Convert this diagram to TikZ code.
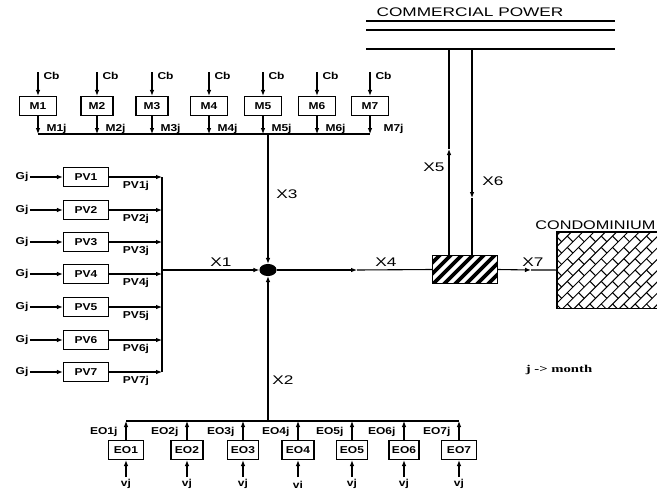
\documentclass[tikz,border=0pt]{standalone}
\usepackage{fontspec}
\setmainfont{Liberation Sans}
\newfontfamily\bigf{Liberation Sans}[FakeStretch=1.38]
\newfontfamily\condf{Liberation Sans}[FakeStretch=1.3]
\newfontfamily\smlf{Liberation Sans}[FakeStretch=1.2]
\newfontfamily\serf{Liberation Serif}[FakeStretch=1.4]
\usetikzlibrary{arrows.meta,shapes.geometric,calc}
\begin{document}
\begin{tikzpicture}[x=1pt,y=-1pt,
  line width=1.1pt,
  arr/.style={-{Latex[length=6pt,width=4.6pt]}},
  box/.style={draw, minimum height=19pt, inner sep=0pt, font=\smlf\bfseries\fontsize{10}{11}\selectfont},
  sl/.style={inner sep=0pt, font=\smlf\bfseries\fontsize{10}{11}\selectfont},
  bl/.style={inner sep=0pt, font=\bigf\fontsize{12.5}{14}\selectfont},
]
\useasboundingbox (0,0) rectangle (657,490);
\clip (0,0) rectangle (657,490);

% ---------- M row ----------
\foreach \k/\x/\w in {1/38/37,2/97/32,3/152/32,4/209/37,5/263/37,6/317/37,7/370/37}{
  \node[box, minimum width=\w pt] (m\k) at (\x,106) {M\k};
  \coordinate (cb\k) at (\x,72);
  \coordinate (mb\k) at (\x,134);
  \draw[arr] (cb\k) -- (m\k.north);
  \draw[arr] (m\k.south) -- (mb\k);
  \node[sl, anchor=base west] (cbl\k) at (\x+5,79) {Cb};
}
\foreach \k in {1,...,6}{
  \node[sl, anchor=base west] (mjl\k) at ($(mb\k)+(8,-3)$) {M\k j};
}
\node[sl, anchor=base west] (mjl7) at (383,131) {M7j};
\draw (mb1) -- (mb7);
\coordinate (x3top) at (268,134);

% ---------- junction ----------
\node[draw, fill, ellipse, minimum width=16pt, minimum height=11pt, inner sep=0pt] (dot) at (268,270) {};
\draw[arr] (x3top) -- (dot.north);
\node[bl] (lx3) at (287,194) {X3};

% ---------- PV column ----------
\foreach \k/\y in {1/177,2/210,3/242,4/274,5/307,6/340,7/372}{
  \node[box, minimum width=45pt] (pv\k) at (86,\y) {PV\k};
  \node[sl, inner sep=1pt] (g\k) at (22,\y) {Gj};
  \coordinate (pb\k) at (162,\y);
  \draw[arr] (g\k.east) -- (pv\k.west);
  \draw[arr] (pv\k.east) -- (pb\k);
  \node[sl] (pvl\k) at (136,\y+9) {PV\k j};
}
\draw (pb1) -- (pb7);
\coordinate (x1s) at (162,270);
\draw[arr] (x1s) -- (dot.west);
\node[bl] (lx1) at (221,262) {X1};

% ---------- EO row ----------
\foreach \k/\x/\w/\vy/\vt in {1/126/35/484/vj,2/187/32/484/vj,3/243/31/484/vj,4/298/32/485/vi,5/352/31/484/vj,6/404/30/484/vj,7/459/35/484/vj}{
  \node[box, minimum width=\w pt] (eo\k) at (\x,450) {EO\k};
  \coordinate (eb\k) at (\x,421);
  \coordinate (va\k) at (\x,477);
  \draw[arr] (eo\k.north) -- (eb\k);
  \draw[arr] (va\k) -- (eo\k.south);
  \node[sl] (vl\k) at (\x,\vy) {\vt};
  \node[sl, anchor=base east] (eol\k) at (\x-8,434) {EO\k j};
}
\draw (eb1) -- (eb7);
\coordinate (x2b) at (268,421);
\draw[arr] (x2b) -- (dot.south);
\node[bl] (lx2) at (283,380) {X2};

% ---------- meter box (hatched) ----------
\node[minimum width=64pt, minimum height=27pt, inner sep=0pt] (hb) at (465,269.5) {};
\begin{scope}
  \clip (hb.south west) rectangle (hb.north east);
  \foreach \i in {0,...,9}{
    \draw[line width=3.8pt] (405+\i*11,290) -- ++(40,-40);
  }
\end{scope}
\draw (hb.south west) rectangle (hb.north east);

\coordinate (x4m) at (357,270);
\draw[arr] (dot.east) -- (x4m);
\draw (x4m) -- (hb.west);
\node[bl] (lx4) at (386,262) {X4};

% ---------- commercial power ----------
\node[bl] (cp) at (470,12) {COMMERCIAL POWER};
\coordinate (c1a) at (366,21); \coordinate (c1b) at (615,21);
\coordinate (c2a) at (366,30); \coordinate (c2b) at (615,30);
\coordinate (c3a) at (366,49); \coordinate (c3b) at (615,49);
\draw (c1a) -- (c1b);
\draw (c2a) -- (c2b);
\draw (c3a) -- (c3b);

\coordinate (x5t) at (449,49);
\coordinate (x5m) at (449,149);
\draw[arr] (hb.north -| x5t) -- (x5m);
\draw (x5m) -- (x5t);
\node[bl] (lx5) at (434,167) {X5};

\coordinate (x6t) at (472,49);
\coordinate (x6m) at (472,198);
\draw[arr] (x6t) -- (x6m);
\draw (x6m) -- (hb.north -| x6t);
\node[bl] (lx6) at (493,181) {X6};

% ---------- condominium ----------
\node[minimum width=110pt, minimum height=75pt, inner sep=0pt, anchor=north west] (con) at (557,232) {};
\begin{scope}
  \clip (con.south west) rectangle (con.north east);
  \begin{scope}[shift={(con.center)}, rotate=45, line width=1pt]
    \foreach \k in {-10,...,9}{
      \draw (-110,\k*8) -- (110,\k*8);
      \pgfmathsetmacro\off{mod(\k+30,2)*8}
      \foreach \j in {-7,...,7}{
        \draw (\j*16+\off,\k*8) -- (\j*16+\off,\k*8+8);
      }
    }
  \end{scope}
\end{scope}
\draw (con.south west) rectangle (con.north east);
\node[inner sep=0pt, font=\condf\fontsize{12.5}{14}\selectfont, anchor=base east] (conl) at (656,229) {CONDOMINIUM};

\coordinate (x7m) at (531,270);
\draw[arr] (hb.east) -- (x7m);
\draw (x7m) -- (con.west);
\node[bl] (lx7) at (533,262) {X7};

\node[inner sep=0pt, font=\serf\bfseries\fontsize{10.5}{12}\selectfont] (jm) at (559,370) {j -> month};
\end{tikzpicture}
\end{document}
